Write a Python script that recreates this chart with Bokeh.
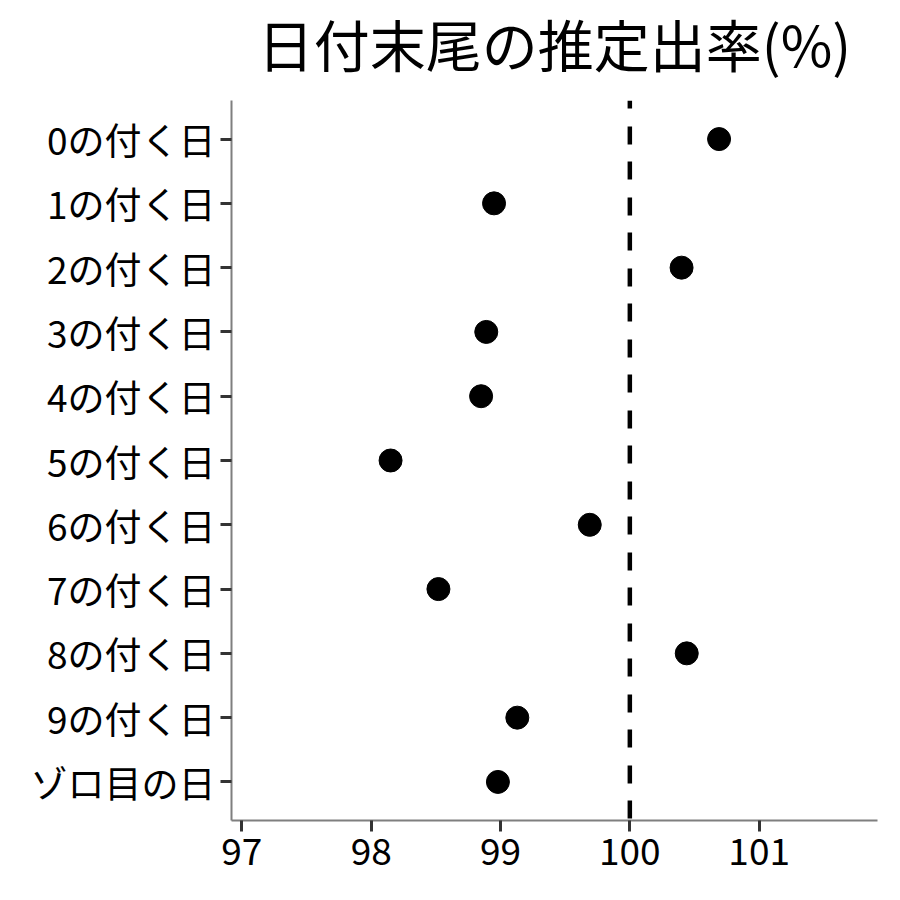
from bokeh.plotting import figure
from bokeh.models import Range1d, FixedTicker, Span, ColumnDataSource
from bokeh.layouts import column
from bokeh.core.properties import value
from bokeh.embed import file_html
from bokeh.resources import INLINE

categories = ["0の付く日", "1の付く日", "2の付く日", "3の付く日", "4の付く日",
              "5の付く日", "6の付く日", "7の付く日", "8の付く日", "9の付く日", "ゾロ目の日"]
rates = [100.69, 98.95, 100.40, 98.89, 98.85, 98.15, 99.69, 98.52, 100.44, 99.13, 98.98]
x_ticks = [97, 98, 99, 100, 101]
reference_rate = 100
title_text = "日付末尾の推定出率(%)"

FONT = "Noto Sans CJK JP"
n = len(categories)
ypos = [n - i for i in range(n)]
x_lo, x_hi = 96.92, 101.915
y_lo, y_hi = 0.4, n + 0.6
LEFT, RIGHT = 231, 7

# title strip
t = figure(width=884, height=100, output_backend="svg", toolbar_location=None,
           x_range=Range1d(x_lo, x_hi), y_range=Range1d(0, 100),
           min_border_left=LEFT, min_border_right=RIGHT, min_border_top=0, min_border_bottom=0)
t.axis.visible = False
t.grid.visible = False
t.outline_line_color = None
t.border_fill_color = "white"
t.text(x=[(x_lo + x_hi) / 2], y=[58], text=[title_text], text_font=value(FONT),
       text_font_size="56px", text_color="black", text_align="center",
       text_baseline="middle")

# main plot
p = figure(width=884, height=784, output_backend="svg", toolbar_location=None,
           x_range=Range1d(x_lo, x_hi), y_range=Range1d(y_lo, y_hi),
           min_border_left=LEFT, min_border_right=RIGHT, min_border_top=0, min_border_bottom=64)
p.outline_line_color = None
p.background_fill_color = "white"
p.border_fill_color = "white"
p.grid.visible = False

src = ColumnDataSource(dict(x=rates, y=ypos))
p.add_layout(Span(location=reference_rate, dimension="height", line_color="black",
                  line_width=4.5, line_dash="18 18 18 17", line_dash_offset=10))
p.scatter("x", "y", source=src, size=23, color="black")

for ax in (p.xaxis[0], p.yaxis[0]):
    ax.axis_line_color = "#7f7f7f"
    ax.axis_line_width = 2
    ax.major_tick_line_color = "#333333"
    ax.major_tick_line_width = 3
    ax.major_tick_out = 11
    ax.major_tick_in = 0
    ax.minor_tick_line_color = None
    ax.major_label_text_font = FONT
    ax.major_label_text_font_size = "37px"
    ax.major_label_text_color = "black"

p.xaxis[0].ticker = FixedTicker(ticks=x_ticks)
p.xaxis[0].major_label_standoff = 6
p.yaxis[0].ticker = FixedTicker(ticks=ypos)
p.yaxis[0].major_label_overrides = {y: c for y, c in zip(ypos, categories)}
p.yaxis[0].major_label_standoff = 5

layout = column(t, p, spacing=0)
open("out.html", "w").write(file_html(layout, INLINE))
